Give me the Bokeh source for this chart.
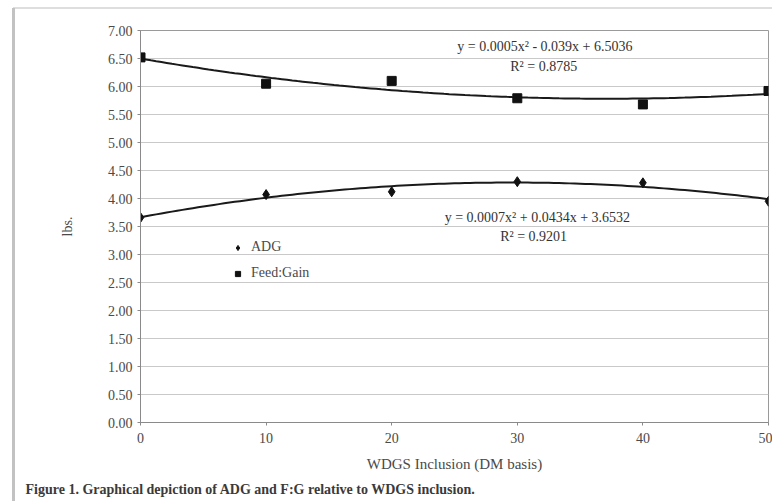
import numpy as np
from bokeh.plotting import figure
from bokeh.models import (ColumnDataSource, Range1d, SingleIntervalTicker, NumeralTickFormatter,
                          Legend, LegendItem, Label, Title)
from bokeh.embed import file_html
from bokeh.resources import INLINE

# ---- data ----
wdgs = [0, 10, 20, 30, 40, 50]
adg = [3.66, 4.07, 4.12, 4.30, 4.28, 3.95]
feed_gain = [6.52, 6.05, 6.10, 5.79, 5.68, 5.92]
fg_eq = "y = 0.0005x\u00b2 - 0.039x + 6.5036"
fg_r2 = "R\u00b2 = 0.8785"
adg_eq = "y = 0.0007x\u00b2 + 0.0434x + 3.6532"
adg_r2 = "R\u00b2 = 0.9201"
x_title = "WDGS Inclusion (DM basis)"
y_title = "lbs."
caption = "Figure 1. Graphical depiction of ADG and F:G relative to WDGS inclusion."

FONT = "Liberation Serif"
TXT = "#4a4a4a"

# polynomial trend lines (2nd order), as in the original spreadsheet chart
xs = np.linspace(min(wdgs), max(wdgs), 121)
fg_fit = np.polyval(np.polyfit(wdgs, feed_gain, 2), xs)
adg_fit = np.polyval(np.polyfit(wdgs, adg, 2), xs)

p = figure(width=772, height=501, output_backend="svg", toolbar_location=None,
           x_range=Range1d(0, 50), y_range=Range1d(0, 7),
           min_border_left=140, min_border_right=4, min_border_top=30, min_border_bottom=79)
p.background_fill_color = "white"
p.border_fill_alpha = 0
p.styles = {
    "background-color": "white",
    "background-image": "linear-gradient(#c2c2c2,#c2c2c2), linear-gradient(#dedede,#dedede)",
    "background-size": "3px 100%, 100% 2px",
    "background-position": "12px 8px, 13px 7px",
    "background-repeat": "no-repeat",
}
p.outline_line_color = "#9a9a9a"
p.outline_line_width = 1

# axes
p.xaxis.ticker = SingleIntervalTicker(interval=10)
p.yaxis.ticker = SingleIntervalTicker(interval=0.5)
p.yaxis.formatter = NumeralTickFormatter(format="0.00")
for ax in (p.xaxis, p.yaxis):
    ax.axis_line_color = "#8a8a8a"
    ax.major_tick_line_color = "#8a8a8a"
    ax.minor_tick_line_color = None
    ax.major_tick_in = 0
    ax.major_tick_out = 3
    ax.major_label_text_font = FONT
    ax.major_label_text_font_size = "14px"
    ax.major_label_text_color = TXT
    ax.axis_label_text_font = FONT
    ax.axis_label_text_font_style = "normal"
    ax.axis_label_text_color = TXT
p.xaxis.major_label_standoff = 6
p.yaxis.major_label_standoff = 4
p.xaxis.axis_label = x_title
p.xaxis.axis_label_text_font_size = "15px"
p.xaxis.axis_label_standoff = 10
p.yaxis.axis_label = y_title
p.yaxis.axis_label_text_font_size = "14px"
p.yaxis.axis_label_standoff = 30

p.xgrid.grid_line_color = None
p.ygrid.grid_line_color = "#c9c9c9"
p.ygrid.grid_line_width = 1

# trend lines
p.line(xs, fg_fit, line_color="#1a1a1a", line_width=2)
p.line(xs, adg_fit, line_color="#1a1a1a", line_width=2)

src = ColumnDataSource(dict(x=wdgs, adg=adg, fg=feed_gain))
r_adg = p.scatter("x", "adg", source=src, marker="diamond", size=10,
                  fill_color="#111111", line_color="#111111")
r_fg = p.scatter("x", "fg", source=src, marker="square", size=9,
                 fill_color="#111111", line_color="#111111")

legend = Legend(items=[LegendItem(label="ADG", renderers=[r_adg]),
                       LegendItem(label="Feed:Gain", renderers=[r_fg])],
                location=(91, 141), orientation="vertical",
                glyph_width=13, glyph_height=13, label_standoff=7, spacing=10,
                padding=0, margin=0, border_line_color=None,
                background_fill_alpha=0, label_text_font=FONT,
                label_text_font_size="14px", label_text_color=TXT)
p.add_layout(legend)

# equation labels
for txt, x, y in [(fg_eq, 32.2, 6.71), (fg_r2, 32.1, 6.36),
                  (adg_eq, 31.6, 3.66), (adg_r2, 31.3, 3.32)]:
    p.add_layout(Label(x=x, y=y, text=txt, text_align="center", text_baseline="middle",
                       text_font=FONT, text_font_size="14px", text_color="#333333"))

# caption
cap = Title(text=caption, align="left", offset=-115, text_font=FONT,
            text_font_size="14px", text_font_style="bold", text_color="#3a3a3a")
p.add_layout(cap, "below")

open("out.html", "w").write(file_html(p, INLINE))
